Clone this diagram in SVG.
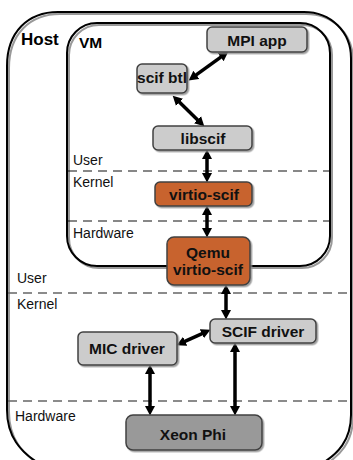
<svg xmlns="http://www.w3.org/2000/svg" width="353" height="460" viewBox="0 0 353 460">
  <style>
    .frame { fill: none; stroke: #000; stroke-width: 2; }
    .frame-shadow { fill: none; stroke: #999; stroke-width: 2; }
    .node { stroke: #404040; stroke-width: 1.5; filter: url(#shadow); }
    .gray { fill: #cccccc; }
    .dark { fill: #999999; }
    .orange { fill: #c8642f; }
    .label { font-family: "Liberation Sans", Arial, sans-serif; font-size: 14px; fill: #111; }
    .title { font-family: "Liberation Sans", Arial, sans-serif; font-weight: bold; fill: #000; }
    .ntext { font-family: "Liberation Sans", Arial, sans-serif; font-weight: bold; font-size: 15.5px; fill: #111; text-anchor: middle; }
    .vm-dash { stroke: #111; stroke-width: 1.2; stroke-dasharray: 9 6; }
    .host-dash { stroke: #666; stroke-width: 1.5; stroke-dasharray: 9 6; }
    .arrow { stroke: #000; stroke-width: 3.5; marker-start: url(#head); marker-end: url(#head); }
  </style>
  <defs>
    <marker id="head" markerWidth="11" markerHeight="11" refX="1" refY="5.5" orient="auto-start-reverse" markerUnits="userSpaceOnUse">
      <path d="M0,0.5 L9.5,5.5 L0,10.5 z" fill="#000"/>
    </marker>
    <filter id="shadow" x="-10%" y="-10%" width="130%" height="140%">
      <feDropShadow dx="1.5" dy="1.5" stdDeviation="0.6" flood-color="#888" flood-opacity="0.8"/>
    </filter>
  </defs>
  <rect width="353" height="460" fill="#fff"/>

  <!-- Host frame -->
  <g id="host">
    <path class="frame-shadow" transform="translate(2,2)" d="M7,66 C7,32 28,12 58,12 L304,12 C331,12 351,32 351,58 L351,415 C351,440 338,454 321,464 L40,464 C20,452 7,436 7,410 Z"/>
    <path class="frame" fill="#fff" d="M7,66 C7,32 28,12 58,12 L304,12 C331,12 351,32 351,58 L351,415 C351,440 338,454 321,464 L40,464 C20,452 7,436 7,410 Z"/>
    <text class="title" x="21" y="45" font-size="17">Host</text>
  </g>

  <!-- VM frame -->
  <g id="vm">
    <rect class="frame-shadow" x="69" y="25" width="263" height="243" rx="30"/>
    <rect class="frame" fill="#fff" x="67" y="23" width="263" height="243" rx="30"/>
    <text class="title" x="79" y="48" font-size="15.5">VM</text>
  </g>

  <!-- Layer separators -->
  <g id="layers">
    <line class="vm-dash" x1="68" y1="171" x2="329" y2="171"/>
    <line class="vm-dash" x1="68" y1="221" x2="329" y2="221"/>
    <line class="host-dash" x1="8" y1="293" x2="350" y2="293"/>
    <line class="host-dash" x1="8" y1="401" x2="350" y2="401"/>
    <text class="label" x="73" y="165">User</text>
    <text class="label" x="73" y="187">Kernel</text>
    <text class="label" x="73" y="238">Hardware</text>
    <text class="label" x="17" y="283">User</text>
    <text class="label" x="17" y="309">Kernel</text>
    <text class="label" x="15" y="421">Hardware</text>
  </g>

  <!-- Connectors -->
  <g id="connectors">
    <line class="arrow" x1="221.5" y1="56.6" x2="195.5" y2="75.4"/>
    <line class="arrow" x1="178.8" y1="101.6" x2="198.2" y2="120.4"/>
    <line class="arrow" x1="207" y1="158" x2="207" y2="174"/>
    <line class="arrow" x1="207" y1="214" x2="207" y2="229"/>
    <line class="arrow" x1="226" y1="293" x2="226" y2="311"/>
    <line class="arrow" x1="202.7" y1="333.3" x2="184.3" y2="341.7"/>
    <line class="arrow" x1="150" y1="373" x2="150" y2="407"/>
    <line class="arrow" x1="235" y1="351" x2="235" y2="407"/>
  </g>

  <g id="mpi-app">
    <rect class="node gray" x="207" y="27" width="100" height="25" rx="5"/>
    <text class="ntext" x="257" y="46">MPI app</text>
  </g>
  <g id="scif-btl">
    <rect class="node gray" x="137" y="64" width="50" height="29" rx="5"/>
    <text class="ntext" x="162" y="83" font-size="10.5">scif btl</text>
  </g>
  <g id="libscif">
    <rect class="node gray" x="153" y="126" width="99" height="24" rx="5"/>
    <text class="ntext" x="203" y="144">libscif</text>
  </g>
  <g id="vm-virtio-scif">
    <rect class="node orange" x="155" y="182" width="97" height="24" rx="5"/>
    <text class="ntext" x="204" y="200">virtio-scif</text>
  </g>
  <g id="qemu-virtio-scif">
    <rect class="node orange" x="167" y="237" width="83" height="48" rx="7"/>
    <text class="ntext" x="208" y="258">Qemu</text>
    <text class="ntext" x="208" y="275">virtio-scif</text>
  </g>
  <g id="scif-driver">
    <rect class="node gray" x="210" y="319" width="106" height="24" rx="5"/>
    <text class="ntext" x="263" y="337">SCIF driver</text>
  </g>
  <g id="mic-driver">
    <rect class="node gray" x="78" y="332" width="99" height="33" rx="5"/>
    <text class="ntext" x="127" y="354">MIC driver</text>
  </g>
  <g id="xeon-phi">
    <rect class="node dark" x="126" y="415" width="136" height="35" rx="7"/>
    <text class="ntext" x="193" y="440" font-size="17">Xeon Phi</text>
  </g>
</svg>
